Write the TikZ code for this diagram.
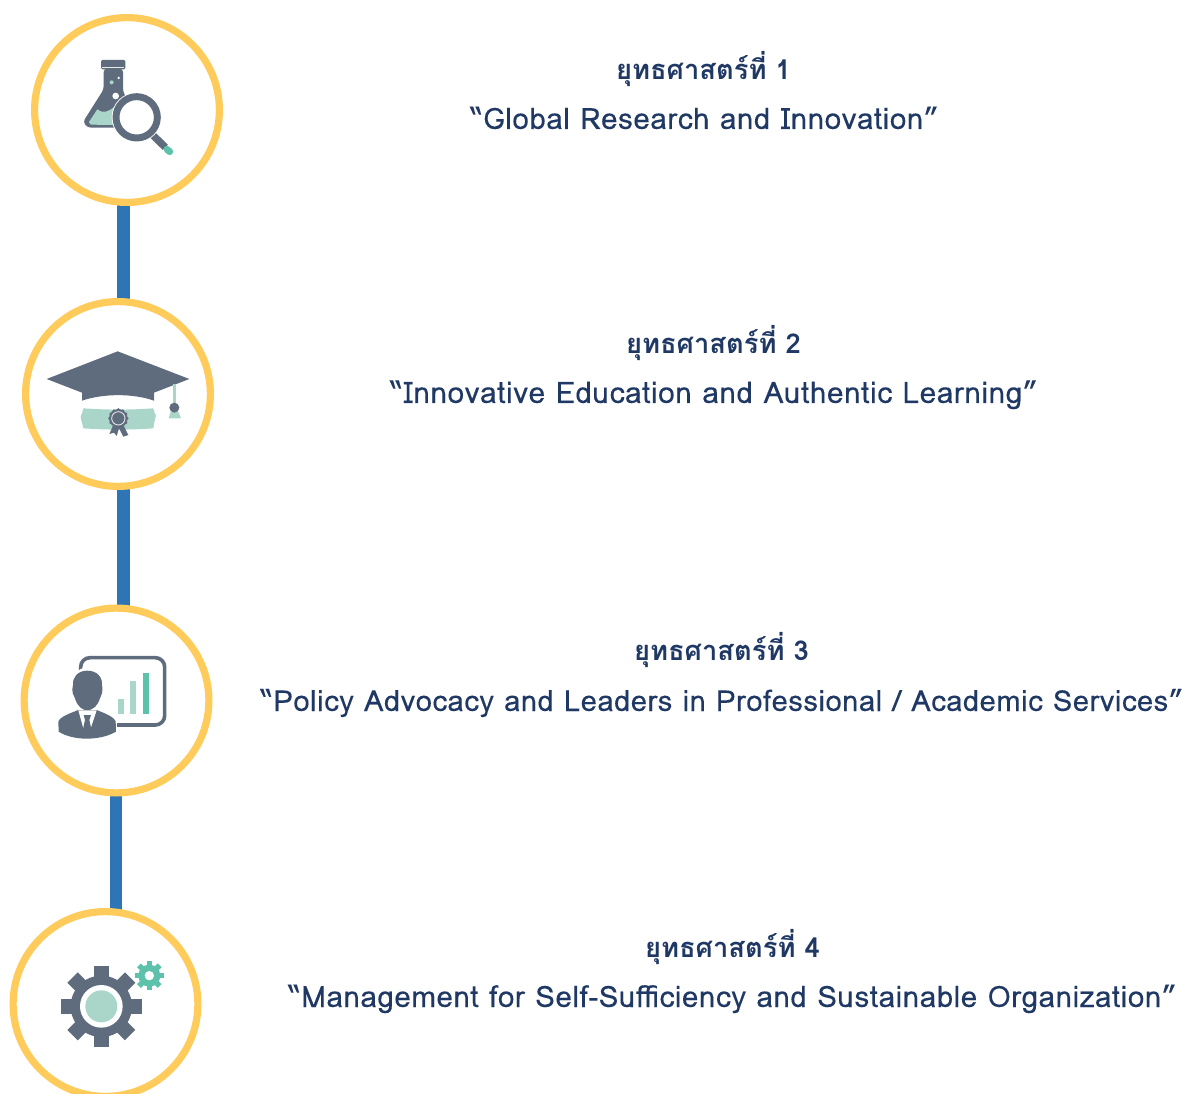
\documentclass[tikz,border=0pt]{standalone}
\usepackage{fontspec}
\usetikzlibrary{backgrounds}
\newfontfamily\thaifont[Script=Thai]{Loma}
\newfontfamily\latfont[LetterSpace=2,FakeBold=0.15]{Loma}
\definecolor{slate}{HTML}{5F6C7D}
\definecolor{mint}{HTML}{A9D6C8}
\definecolor{tealc}{HTML}{5CC2AB}
\definecolor{ringc}{HTML}{FFCC5C}
\definecolor{linkc}{HTML}{2E75B6}
\definecolor{textc}{HTML}{1F3864}
\tikzset{
  ring/.style={circle,draw=ringc,line width=5.4pt,fill=white,minimum size=138.6pt,inner sep=0pt,outer sep=0pt},
  linkline/.style={draw=linkc,line width=9.4pt},
  head/.style={anchor=base,text=textc,font=\thaifont\bfseries\fontsize{20.5}{24}\selectfont,inner sep=0pt},
  title/.style={anchor=base,text=textc,font=\latfont\fontsize{#1}{26}\selectfont,inner sep=0pt},
  zoomed/.style={x=0.25pt,y=-0.25pt}
}
\begin{document}
\begin{tikzpicture}[x=0.75pt,y=-0.75pt]
\useasboundingbox (0,0) rectangle (1185,1094);
\node[ring] (c1) at (127,110) {};
\node[ring] (c2) at (118,394) {};
\node[ring] (c3) at (116.5,700.5) {};
\node[ring] (c4) at (105.5,1004) {};
\coordinate (k1) at (123.5,250);
\coordinate (k2) at (123.5,550);
\coordinate (k3) at (116,850);
\begin{scope}[on background layer]
\draw[linkline] (k1 |- c1.south) -- (k1 |- c2.north);
\draw[linkline] (k2 |- c2.south) -- (k2 |- c3.north);
\draw[linkline] (k3 |- c3.south) -- (k3 |- c4.north);
\end{scope}

% flask and magnifier
\begin{scope}[shift={(20,10)},zoomed]
\fill[slate,rounded corners=1pt] (243,150) rectangle (316,178);
\fill[white!85!slate] (246,171) rectangle (313,175);
\fill[slate,rounded corners=2.5pt] (251,176) -- (309,176) -- (309,245) -- (340,300) -- (310,353) -- (203,353) -- (189,336) -- (251,238) -- cycle;
\fill[mint] (232,298) .. controls (250,312) and (265,305) .. (284,290) -- (284,345) -- (212,344) -- (207,336) -- cycle;
\fill[white] (287,258) circle[radius=10];
\fill[mint] (275,217) circle[radius=6];
\fill[white] (296,204) circle[radius=4];
\draw[slate,line width=5.5pt] (395,372) -- (436,412);
\draw[tealc,line width=5.2pt,line cap=round] (441,418) -- (449,425);
\fill[white] (350,322) circle[radius=75];
\draw[slate,line width=5.2pt] (350,322) circle[radius=62];
\end{scope}

% cap and diploma
\begin{scope}[shift={(20,300)},zoomed]
\fill[slate] (293,154) -- (508,237) -- (402,278) -- (402,302) .. controls (340,280) and (250,280) .. (186,302) -- (186,278) -- (80,237) -- cycle;
\fill[mint] (459,252) rectangle (467,320);
\fill[mint] (452,335) -- (475,335) -- (483,355) -- (446,355) -- cycle;
\fill[slate] (463,323) circle[radius=15];
\fill[mint] (190,325) .. controls (260,330) and (330,330) .. (400,325) .. controls (402,335) and (404,340) .. (408,347) .. controls (404,360) and (402,372) .. (400,385) .. controls (330,390) and (260,390) .. (190,385) .. controls (188,372) and (184,365) .. (182,350) .. controls (186,340) and (188,335) .. (190,325) -- cycle;
\fill[slate] (280,375) -- (268,402) -- (282,398) -- (290,408) -- (297,385) -- (310,410) -- (325,405) -- (310,375) -- cycle;
\foreach \a in {0,30,...,330} \fill[slate] (295,355) ++(\a:27) circle[radius=4];
\fill[slate] (295,355) circle[radius=28];
\draw[white!80!slate,line width=0.7pt] (295,355) circle[radius=20];
\end{scope}

% presenter and chart
\begin{scope}[shift={(20,605)},zoomed]
\draw[slate,line width=2.7pt,rounded corners=7pt] (182,158) rectangle (434,360);
\fill[mint] (293,283) rectangle (312,328);
\fill[mint] (331,227) rectangle (349,328);
\fill[tealc] (369,205) rectangle (388,328);
\fill[white] (108,300) rectangle (292,420);
\fill[white] (202,255) ellipse[x radius=52,y radius=68];
\fill[slate] (115,350) .. controls (120,335) and (150,325) .. (175,315) -- (230,315) .. controls (255,325) and (280,335) .. (287,348) -- (288,380) .. controls (240,408) and (160,408) .. (116,380) -- cycle;
\fill[slate] (202,197) .. controls (232,197) and (248,218) .. (246,240) .. controls (250,262) and (244,270) .. (240,280) .. controls (232,305) and (215,316) .. (202,316) .. controls (188,316) and (172,305) .. (165,280) .. controls (160,270) and (154,262) .. (159,240) .. controls (157,218) and (172,197) .. (202,197) -- cycle;
\fill[white] (175,316) -- (230,316) -- (212,370) -- (190,370) -- cycle;
\fill[slate] (191,330) -- (213,330) -- (208,345) -- (214,372) -- (201,384) -- (189,372) -- (195,345) -- cycle;
\end{scope}

% gears
\begin{scope}[shift={(10,905)},zoomed]
\foreach \a in {0,45,...,315} \fill[slate,shift={(274,304)},rotate=\a] (-22,-122) rectangle (22,0);
\fill[slate] (274,304) circle[radius=92];
\fill[white] (274,304) circle[radius=64];
\fill[mint] (274,304) circle[radius=48];
\foreach \a in {0,45,...,315} \fill[tealc,shift={(418,212)},rotate=\a] (-8,-44) rectangle (8,0);
\fill[tealc] (418,212) circle[radius=33];
\fill[white] (418,212) circle[radius=14];
\end{scope}

\node[head] (h1) at (703.5,80) {ยุทธศาสตร์ที่ 1};
\node[title=22.1] (t1) at (704.5,129) {“Global Research and Innovation”};
\node[head] (h2) at (713.5,354) {ยุทธศาสตร์ที่ 2};
\node[title=22.25] (t2) at (714,403) {“Innovative Education and Authentic Learning”};
\node[head] (h3) at (721.5,660) {ยุทธศาสตร์ที่ 3};
\node[title=21.75] (t3) at (722,711) {“Policy Advocacy and Leaders in Professional / Academic Services”};
\node[head] (h4) at (732.5,957) {ยุทธศาสตร์ที่ 4};
\node[title=22.1] (t4) at (732.5,1007) {“Management for Self-Sufficiency and Sustainable Organization”};
\end{tikzpicture}
\end{document}
